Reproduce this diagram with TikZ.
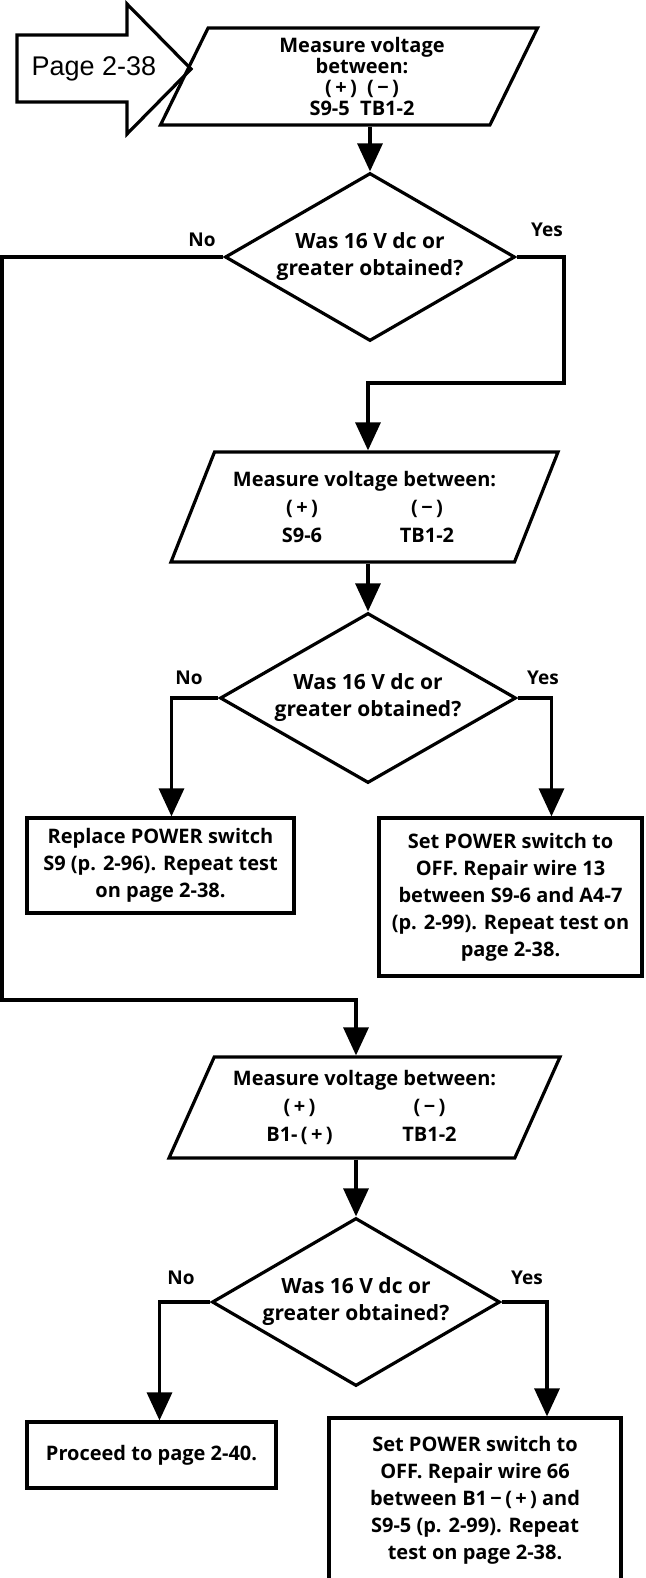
\documentclass[tikz,border=0pt]{standalone}
\usepackage{fontspec}
\setmainfont{Open Sans}
\newfontfamily\pagefont{Liberation Sans}
\usepackage{tikz}
\usetikzlibrary{arrows.meta,positioning,calc,shapes.geometric}
\tikzset{
  pbox/.style={draw,line width=3.2pt,align=center,font=\fontsize{20}{27}\selectfont\bfseries,inner sep=4pt},
  dbox/.style={draw,diamond,aspect=1.73,line width=3.2pt,align=center,font=\fontsize{21}{27}\selectfont\bfseries,inner sep=0pt,minimum width=290pt,minimum height=168pt},
  iobox/.style={draw,trapezium,trapezium left angle=60,trapezium right angle=120,trapezium stretches body,line width=3.2pt,align=center,font=\fontsize{20}{28}\selectfont\bfseries,inner sep=2pt},
  arr/.style={-{Triangle[length=28pt,width=25pt]},line width=3.2pt},
  lbl/.style={font=\fontsize{19}{20}\selectfont\bfseries,inner sep=1pt},
}

\begin{document}
\begin{tikzpicture}[x=1pt,y=-1pt]
  \clip (0,0) rectangle (645,1578);
  % entry arrow
  \draw[line width=3.2pt] (17,35) -- (127,35) -- (127,4) -- (191,69) -- (127,134) -- (127,102) -- (17,102) -- cycle;
  \node[font=\pagefont\fontsize{27}{30}\selectfont] (pg) at (94,69) {Page 2-38};
  % first test
  \node[iobox,font=\fontsize{20}{21}\selectfont\bfseries,minimum width=377pt,minimum height=97pt] (p1) at (349,76.5) {\hspace*{26pt}Measure voltage\\\hspace*{26pt}between:\\\hspace*{26pt}(\,+\,)\ \ (\,−\,)\\\hspace*{26pt}S9-5\ \ TB1-2};
  \node[dbox] (d1) at (370,257) {Was 16 V dc or\\greater obtained?};
  \node[lbl] at (202,240) {No};
  \node[lbl] at (547,230) {Yes};
  % second test
  \node[iobox,minimum width=387pt,minimum height=110pt] (p2) at (364.5,507) {Measure voltage between:\\\makebox[125pt]{(\,+\,)}\makebox[125pt]{(\,−\,)}\\\makebox[125pt]{S9-6}\makebox[125pt]{TB1-2}};
  \node[dbox,minimum width=296pt,minimum height=170pt] (d2) at (368,698) {Was 16 V dc or\\greater obtained?};
  \node[lbl] at (189,678) {No};
  \node[lbl] at (543,678) {Yes};
  \node[pbox,minimum width=267pt,minimum height=95pt] (b2l) at (160.5,865.5) {Replace POWER switch\\S9 (p. 2-96). Repeat test\\on page 2-38.};
  \node[pbox,minimum width=263pt,minimum height=158pt] (b2r) at (510.5,897) {Set POWER switch to\\OFF. Repair wire 13\\between S9-6 and A4-7\\(p. 2-99). Repeat test on\\page 2-38.};
  % third test
  \node[iobox,minimum width=391pt,minimum height=101pt] (p3) at (364.5,1107.5) {Measure voltage between:\\\makebox[130pt]{(\,+\,)}\makebox[130pt]{(\,−\,)}\\\makebox[130pt]{B1-\,(\,+\,)}\makebox[130pt]{TB1-2}};
  \node[dbox,minimum width=288pt] (d3) at (356,1302) {Was 16 V dc or\\greater obtained?};
  \node[lbl] at (181,1278) {No};
  \node[lbl] at (527,1278) {Yes};
  \node[pbox,minimum width=249pt,minimum height=66pt] (b3l) at (151.5,1455) {Proceed to page 2-40.};
  \node[pbox,minimum width=292pt,minimum height=165pt] (b3r) at (475,1500.5) {Set POWER switch to\\OFF. Repair wire 66\\between B1\,−\,(\,+\,) and\\S9-5 (p. 2-99). Repeat\\test on page 2-38.};
  % bends of the long runs
  \coordinate (yesbend) at (564,383);
  \coordinate (nobend) at (2,1000);
  \draw[arr] (p1.south -| d1.north) -- (d1.north);
  \draw[arr] (d1.east) -| (yesbend) -| (p2.north -| d2.north);
  \draw[arr] (d1.west) -| (nobend) -| (p3.north -| d3.north);
  \draw[arr] (p2.south -| d2.north) -- (d2.north);
  \draw[arr] (d2.west) -| ([xshift=11pt]b2l.north);
  \draw[arr] (d2.east) -| ([xshift=41pt]b2r.north);
  \draw[arr] (p3.south -| d3.north) -- (d3.north);
  \draw[arr] (d3.west) -| ([xshift=8pt]b3l.north);
  \draw[arr] (d3.east) -| ([xshift=72pt]b3r.north);
\end{tikzpicture}
\end{document}
